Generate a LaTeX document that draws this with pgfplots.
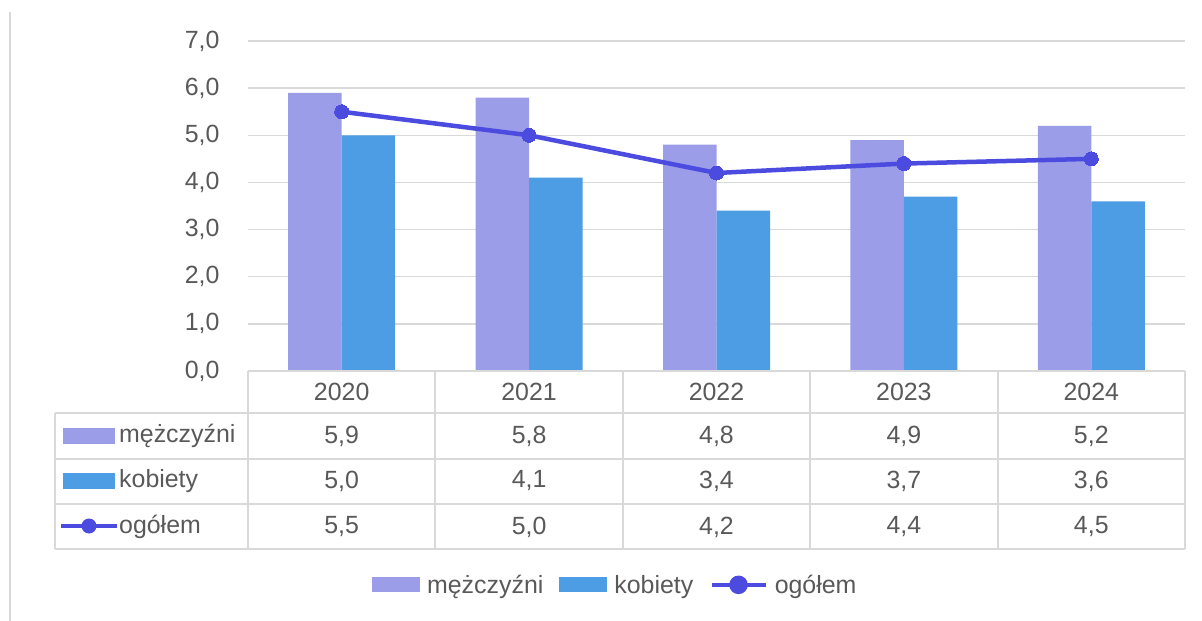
\documentclass[border=0pt]{standalone}
\usepackage{pgfplots}
\pgfplotsset{compat=1.18}
\usepackage{fontspec}
\setmainfont{Liberation Sans}
\definecolor{men}{HTML}{9B9DE8}
\definecolor{women}{HTML}{4C9DE3}
\definecolor{total}{HTML}{4B4BE0}
\definecolor{gridc}{HTML}{D9D9D9}
\definecolor{txt}{HTML}{595959}
\begin{document}
\begin{tikzpicture}[x=1bp,y=1bp]
\path[use as bounding box] (0,0) rectangle (1202,-621);
% cut-off title piece
\node[anchor=base west,font=\fontsize{30}{30}\selectfont\bfseries,text=black,inner sep=0] at (99,6) {g};
% outer frame line
\draw[gridc,line width=2bp] (10,-12) -- (10,-625);
\begin{axis}[
  at={(248bp,-371bp)}, anchor=south west,
  scale only axis, width=937bp, height=330bp,
  xmin=-0.5, xmax=4.5, ymin=0, ymax=7,
  ytick={0,1,...,7},
  xtick=\empty,
  axis line style={draw=none},
  ymajorgrids, grid style={gridc,line width=1.5bp},
  major tick length=0pt,
  tick label style={font=\fontsize{25}{25}\selectfont,text=txt},
  yticklabel style={xshift=-25bp},
  /pgf/number format/.cd, assume math mode=true, use comma, fixed, fixed zerofill, precision=1,
  /pgfplots/.cd,
  ybar=0pt, bar width=53.5bp,
  legend columns=3,
  legend style={at={(0.392,-0.648)},anchor=center,draw=none,fill=none,
    font=\fontsize{25}{25}\selectfont,text=txt,
    /tikz/every odd column/.append style={column sep=5bp},
    /tikz/every even column/.append style={column sep=14bp}},
]
\addplot[fill=men,draw=none,
  legend image code/.code={\fill[men] (0bp,-7.5bp) rectangle (48bp,7.5bp);}]
  coordinates {(0,5.9) (1,5.8) (2,4.8) (3,4.9) (4,5.2)};
\addlegendentry{mężczyźni}
\addplot[fill=women,draw=none,
  legend image code/.code={\fill[women] (0bp,-7.5bp) rectangle (48bp,7.5bp);}]
  coordinates {(0,5.0) (1,4.1) (2,3.4) (3,3.7) (4,3.6)};
\addlegendentry{kobiety}
\addplot[sharp plot, draw=total, line width=4.5bp, mark=*, mark size=7bp,
  mark options={fill=total,draw=total,line width=0pt},
  legend image code/.code={\draw[total,line width=4.5bp] (0bp,0) -- (54bp,0);
     \fill[total] (27bp,0) circle (7bp);}]
  coordinates {(0,5.5) (1,5.0) (2,4.2) (3,4.4) (4,4.5)};
\addlegendentry{ogółem}
\end{axis}
% data table grid
\begin{scope}[gridc,line width=2bp]
\draw (248,-371) -- (1185,-371);
\foreach \yy in {413,459,504,549} \draw (55,-\yy) -- (1185,-\yy);
\draw (55,-413) -- (55,-549);
\foreach \xx in {248,435.4,622.8,810.2,997.6,1185} \draw (\xx,-371) -- (\xx,-549);
\end{scope}
\begin{scope}[every node/.style={font=\fontsize{25}{25}\selectfont,text=txt,inner sep=0}]
\foreach \lab [count=\i from 0] in {2020,2021,2022,2023,2024}
  \node at (341.7+187.4*\i,-392) {\lab};
\foreach \lab [count=\i from 0] in {{5,9},{5,8},{4,8},{4,9},{5,2}}
  \node at (341.7+187.4*\i,-436) {\lab};
\foreach \lab [count=\i from 0] in {{5,0},{4,1},{3,4},{3,7},{3,6}}
  \node at (341.7+187.4*\i,-481) {\lab};
\foreach \lab [count=\i from 0] in {{5,5},{5,0},{4,2},{4,4},{4,5}}
  \node at (341.7+187.4*\i,-527) {\lab};
\fill[men] (63,-428) rectangle (115,-444);
\node[anchor=west] at (119,-436) {mężczyźni};
\fill[women] (63,-473) rectangle (115,-489);
\node[anchor=west] at (119,-481) {kobiety};
\draw[total,line width=4.5bp] (61,-526) -- (117,-526);
\fill[total] (89,-526) circle (7.5);
\node[anchor=west] at (119,-527) {ogółem};
\end{scope}
\end{tikzpicture}
\end{document}
